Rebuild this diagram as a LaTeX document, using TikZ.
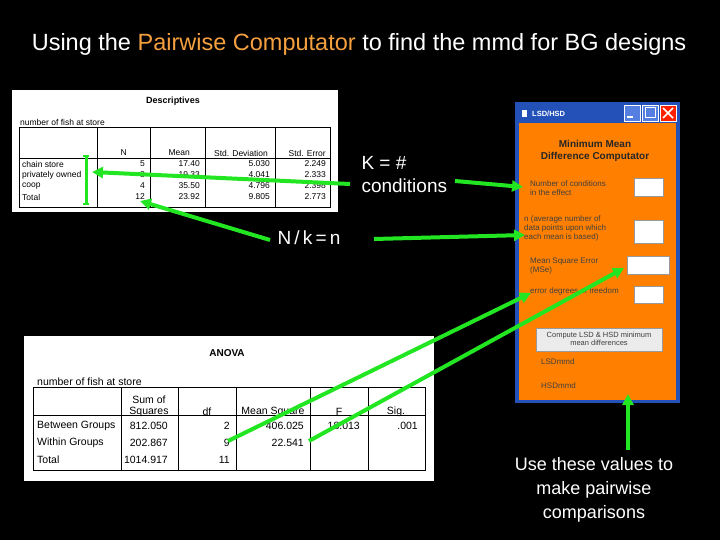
\documentclass[tikz,border=0pt]{standalone}
\usepackage{fontspec}
\setmainfont{Liberation Sans}
\usetikzlibrary{arrows.meta}
\definecolor{grn}{HTML}{22E622}
\definecolor{org}{HTML}{FF8000}
\definecolor{ttl}{HTML}{F5A040}
\definecolor{xpblue}{HTML}{2A5FD8}
\begin{document}
\begin{tikzpicture}[x=1pt,y=-1pt,
  garrow/.style={draw=grn,line width=4pt,-{Triangle[length=11pt,width=11pt]}},
  gline/.style={draw=grn,line width=4pt},
  tiny/.style={font=\fontsize{8.5}{9}\selectfont,inner sep=0pt},
  tinyr/.style={tiny,anchor=east},
  tinyl/.style={tiny,anchor=west},
  atx/.style={font=\fontsize{10.5}{11}\selectfont,inner sep=0pt},
  win/.style={font=\fontsize{8}{9}\selectfont\color{black!75},inner sep=0pt,anchor=west,align=left},
  inbox/.style={draw=black!40,fill=white}]
\fill[black] (0,0) rectangle (720,540);
\useasboundingbox (0,0) rectangle (720,540);
\node[white,font=\fontsize{23.5}{26}\selectfont] (title) at (359,44) {Using the \textcolor{ttl}{Pairwise Computator} to find the mmd for BG designs};
% Descriptives
\fill[white] (12,90) rectangle (338,212);
\node[tiny,font=\fontsize{9}{10}\selectfont\bfseries] (dt) at (173,101) {Descriptives};
\node[tinyl] (dsub) at (20,122) {number of fish at store};
\draw[line width=0.8pt] (19,127) rectangle (330,207);
\foreach \x in {97,150,205,275} \draw[line width=0.8pt] (\x,127) -- (\x,207);
\draw (19,158) -- (330,158);
\node[tinyr] at (127,153) {N};
\node[tinyr] at (190,153) {Mean};
\node[tinyr] at (268,153) {Std. Deviation};
\node[tinyr] at (326,153) {Std. Error};
\foreach \y/\a/\b/\c/\d/\e in {164/chain store/5/17.40/5.030/2.249,175/privately owned/3/19.33/4.041/2.333,186/coop/4/35.50/4.796/2.398,197/Total/12/23.92/9.805/2.773}{
  \node[tinyl] at (22,\y) {\a};
  \node[tinyr] at (145,\y) {\b};
  \node[tinyr] at (200,\y) {\c};
  \node[tinyr] at (270,\y) {\d};
  \node[tinyr] at (326,\y) {\e};}
% ANOVA
\fill[white] (24,336) rectangle (434,481);
\node[atx,font=\fontsize{10}{11}\selectfont\bfseries] (at) at (227,353) {ANOVA};
\node[atx,anchor=west] (asub) at (37,382) {number of fish at store};
\draw[line width=0.8pt] (33,387) rectangle (425,470);
\foreach \x in {121,178,236,310,368} \draw[line width=0.8pt] (\x,387) -- (\x,470);
\draw (33,415) -- (425,415);
\node[atx,align=center] at (149,406) {Sum of\\Squares};
\node[atx] at (207,412) {df};
\node[atx] at (273,412) {Mean Square};
\node[atx] at (339,412) {F};
\node[atx] at (396,412) {Sig.};
\foreach \y/\a/\b/\c/\d/\e/\f in {426/Between Groups/812.050/2/406.025/18.013/.001,443/Within Groups/202.867/9/22.541//,460/Total/1014.917/11///}{
  \node[atx,anchor=west] at (37,\y) {\a};
  \node[atx,anchor=east] at (168,\y) {\b};
  \node[atx,anchor=east] at (230,\y) {\c};
  \node[atx,anchor=east] at (304,\y) {\d};
  \node[atx,anchor=east] at (360,\y) {\e};
  \node[atx,anchor=east] at (418,\y) {\f};}
% Window
\fill[xpblue!85!black] (515,102) rectangle (680,403);
\fill[org] (519,123) rectangle (676,400);
\node[white,font=\fontsize{7.5}{8}\selectfont\bfseries,anchor=west,inner sep=0pt] (wt) at (532,114) {LSD/HSD};
\fill[white] (522,110) rectangle (527,117);
\foreach \x in {624,642} \draw[white,fill=xpblue!80] (\x,105) rectangle (\x+16,121);
\draw[white,fill=red!75!orange] (660,105) rectangle (676,121);
\draw[white,line width=1.5pt] (663,108) -- (673,118) (673,108) -- (663,118);
\draw[white,line width=1.5pt] (627,117) -- (633,117);
\draw[white,line width=1pt] (645,108) rectangle (655,118);
\node[font=\fontsize{10}{12}\selectfont\bfseries,align=center,text=black!85] (wh) at (595,151) {Minimum Mean\\Difference Computator};
\node[win] (l1) at (530,188) {Number of conditions\\in the effect};
\node[win] (l2) at (524,228) {n (average number of\\data points upon which\\each mean is based)};
\node[win] (l3) at (530,266) {Mean Square Error\\(MSe)};
\node[win] (l4) at (530,291) {error degrees of freedom};
\draw[inbox] (634,178) rectangle (663,196);
\draw[inbox] (634,220) rectangle (663,243);
\draw[inbox] (627,256) rectangle (669,274);
\draw[inbox] (634,286) rectangle (663,303);
\draw[fill=black!8,draw=black!40] (536,328) rectangle (662,351);
\node[font=\fontsize{7.5}{8.5}\selectfont,align=center,text=black!75] (btn) at (599,339) {Compute LSD \& HSD  minimum\\mean differences};
\node[win] (r1) at (541,362) {LSDmmd};
\node[win] (r2) at (541,386) {HSDmmd};
% texts
\node[white,font=\fontsize{19}{23}\selectfont,align=left,anchor=west] (k) at (358,175) {K = \#\\conditions};
\node[white,font=\fontsize{19}{22}\selectfont,anchor=west] (n) at (274,238) {N\,/\,k\,=\,n};
\node[white,font=\fontsize{18}{24}\selectfont,align=center] (use) at (594,490) {Use these values to\\make pairwise\\comparisons};
% connectors
\coordinate (kL) at (350,184); \coordinate (po) at (92,172);
\coordinate (kR) at (455,181); \coordinate (w1) at (523,187);
\coordinate (nL) at (270,240); \coordinate (tot) at (140,201);
\coordinate (nR) at (374,239); \coordinate (w2) at (525,235);
\coordinate (df9) at (228,441); \coordinate (w4) at (531,293);
\coordinate (ms) at (309,441); \coordinate (mse) at (624,268);
\coordinate (uT) at (628,450); \coordinate (wb) at (628,394);
\draw[garrow] (kL) -- (po);
\draw[garrow] (kR) -- (w1);
\draw[garrow] (nL) -- (tot);
\draw[garrow] (nR) -- (w2);
\draw[garrow] (df9) -- (w4);
\draw[garrow] (ms) -- (mse);
\draw[garrow] (uT) -- (wb);
\coordinate (b1) at (86,156); \coordinate (b2) at (86,204);
\draw[gline,line width=3pt] (b1) -- (b2);
\draw[gline,line width=2pt] ([xshift=-3]b1) -- ([xshift=3]b1) ([xshift=-3]b2) -- ([xshift=3]b2);
\end{tikzpicture}
\end{document}
